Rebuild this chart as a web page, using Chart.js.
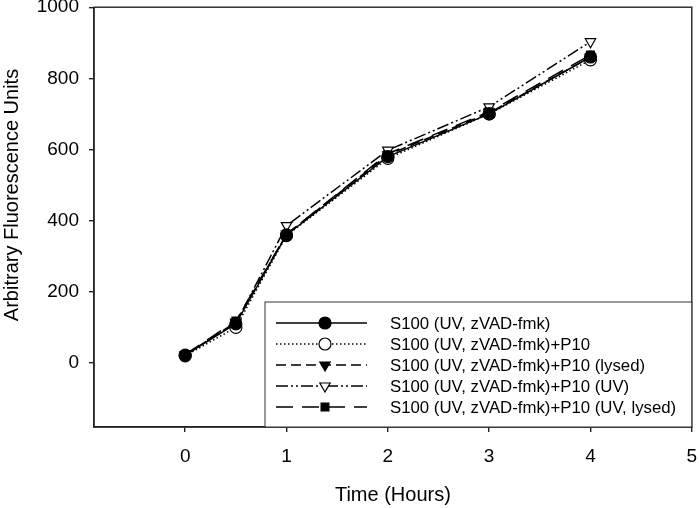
<!DOCTYPE html>
<html>
<head>
<meta charset="utf-8">
<script src="https://cdn.jsdelivr.net/npm/chart.js@4.4.1/dist/chart.umd.min.js"></script>
<style>
  html, body { margin: 0; padding: 0; background: #fff; }
  #wrap { width: 699px; height: 508px; }
</style>
</head>
<body>
<div id="wrap"><canvas id="chart" width="699" height="508"></canvas></div>
<script>
// time points (hours)
const times = [0, 0.5, 1, 2, 3, 4];

// series values
const s100 = [22, 110, 360, 580, 700, 860];
const s100P10 = [20, 100, 358, 575, 700, 852];
const s100P10Lysed = [22, 115, 362, 585, 703, 860];
const s100P10UV = [22, 112, 386, 598, 720, 903];
const s100P10UVLysed = [24, 118, 362, 588, 706, 866];

const seriesLabels = [
  "S100 (UV, zVAD-fmk)",
  "S100 (UV, zVAD-fmk)+P10",
  "S100 (UV, zVAD-fmk)+P10 (lysed)",
  "S100 (UV, zVAD-fmk)+P10 (UV)",
  "S100 (UV, zVAD-fmk)+P10 (UV, lysed)",
];

const xTicks = [0, 1, 2, 3, 4, 5];
const yTicks = [0, 200, 400, 600, 800, 1000];

const FONT = "'Liberation Sans', Arial, sans-serif";

// line / marker styles per series
const styles = [
  { dash: [], point: "circle", fill: "#000", rot: 0 },
  { dash: [1.5, 2.5], point: "circle", fill: "#fff", rot: 0 },
  { dash: [10, 5], point: "triangle", fill: "#000", rot: 180 },
  { dash: [12, 3, 2, 3, 2, 3], point: "triangle", fill: "#fff", rot: 180 },
  { dash: [17, 9], point: "rect", fill: "#000", rot: 0 },
];

const values = [s100, s100P10, s100P10Lysed, s100P10UV, s100P10UVLysed];

const datasets = values.map((vals, i) => ({
  label: seriesLabels[i],
  data: times.map((t, j) => ({ x: t, y: vals[j] })),
  borderColor: "#000",
  borderWidth: 1.5,
  borderDash: styles[i].dash,
  backgroundColor: styles[i].fill,
  pointBackgroundColor: styles[i].fill,
  pointBorderColor: "#000",
  pointBorderWidth: 1.2,
  pointStyle: styles[i].point,
  pointRotation: styles[i].rot,
  pointRadius: styles[i].point === "rect" ? 5.5 : 6,
  tension: 0,
  fill: false,
}));

// draw a marker for the legend
function drawMarker(ctx, st, x, y) {
  const r = st.point === "rect" ? 5.5 : 6;
  ctx.save();
  ctx.setLineDash([]);
  ctx.lineWidth = 1.2;
  ctx.strokeStyle = "#000";
  ctx.fillStyle = st.fill;
  ctx.beginPath();
  if (st.point === "circle") {
    ctx.arc(x, y, r, 0, Math.PI * 2);
  } else if (st.point === "rect") {
    const s = r * Math.SQRT1_2 * 2;
    ctx.rect(x - s / 2, y - s / 2, s, s);
  } else {
    // downward triangle, same geometry as chart.js 'triangle' turned over
    const side = r * 3 / Math.sqrt(3);
    const h = side * Math.sqrt(3) / 2;
    ctx.moveTo(x, y + h * 2 / 3);
    ctx.lineTo(x - side / 2, y - h / 3);
    ctx.lineTo(x + side / 2, y - h / 3);
    ctx.closePath();
  }
  ctx.fill();
  ctx.stroke();
  ctx.restore();
}

const framePlugin = {
  id: "frame",
  afterDatasetsDraw(chart) {
    const { ctx, chartArea: a } = chart;
    ctx.save();
    // plot frame
    ctx.strokeStyle = "#222";
    ctx.lineWidth = 1.4;
    ctx.strokeRect(a.left, a.top, a.right - a.left, a.bottom - a.top);

    // legend box
    const lx = 265, ly = 302;
    ctx.fillStyle = "#fff";
    ctx.fillRect(lx, ly, a.right - lx, a.bottom - ly);
    ctx.lineWidth = 1;
    ctx.strokeStyle = "#333";
    ctx.strokeRect(lx, ly, a.right - lx, a.bottom - ly);

    ctx.font = "16.8px " + FONT;
    ctx.textBaseline = "middle";
    ctx.textAlign = "left";
    seriesLabels.forEach((lab, i) => {
      const y = 323 + i * 21;
      ctx.save();
      ctx.strokeStyle = "#000";
      ctx.lineWidth = 1.5;
      ctx.setLineDash(styles[i].dash);
      ctx.beginPath();
      ctx.moveTo(276, y);
      ctx.lineTo(367, y);
      ctx.stroke();
      ctx.restore();
      drawMarker(ctx, styles[i], 325, y);
      ctx.fillStyle = "#000";
      ctx.fillText(lab, 390, y + 1);
    });

    // axis titles
    ctx.font = "20px " + FONT;
    ctx.textAlign = "center";
    ctx.fillStyle = "#000";
    ctx.fillText("Time (Hours)", (a.left + a.right) / 2, 495);
    ctx.translate(12, 195);
    ctx.rotate(-Math.PI / 2);
    ctx.fillText("Arbitrary Fluorescence Units", 0, 0);
    ctx.restore();
  },
};

function noPad(s) {
  s.paddingTop = 0;
  s.paddingBottom = 0;
  s.paddingLeft = 0;
  s.paddingRight = 0;
}

new Chart(document.getElementById("chart").getContext("2d"), {
  type: "line",
  data: { datasets },
  options: {
    responsive: false,
    animation: false,
    layout: { padding: { top: 7, right: 6, left: 0, bottom: 0 } },
    plugins: {
      legend: { display: false },
      tooltip: { enabled: false },
    },
    scales: {
      x: {
        type: "linear",
        min: -0.9,
        max: 5,
        afterFit: (s) => { s.height = 81; noPad(s); },
        afterBuildTicks: (s) => { s.ticks = xTicks.map((v) => ({ value: v })); },
        grid: { drawOnChartArea: false, drawTicks: true, tickLength: 5, color: "#222", lineWidth: 1.4 },
        border: { display: true, color: "#222", width: 1.4 },
        ticks: { color: "#000", font: { family: FONT, size: 19 }, padding: 13, maxRotation: 0, callback: (v) => String(v) },
      },
      y: {
        type: "linear",
        min: -180,
        max: 1000,
        afterFit: (s) => { s.width = 94; noPad(s); },
        afterBuildTicks: (s) => { s.ticks = yTicks.map((v) => ({ value: v })); },
        grid: { drawOnChartArea: false, drawTicks: true, tickLength: 5, color: "#222", lineWidth: 1.4 },
        border: { display: true, color: "#222", width: 1.4 },
        ticks: { color: "#000", font: { family: FONT, size: 19 }, padding: 10, callback: (v) => String(v) },
      },
    },
  },
  plugins: [framePlugin],
});
</script>
</body>
</html>
